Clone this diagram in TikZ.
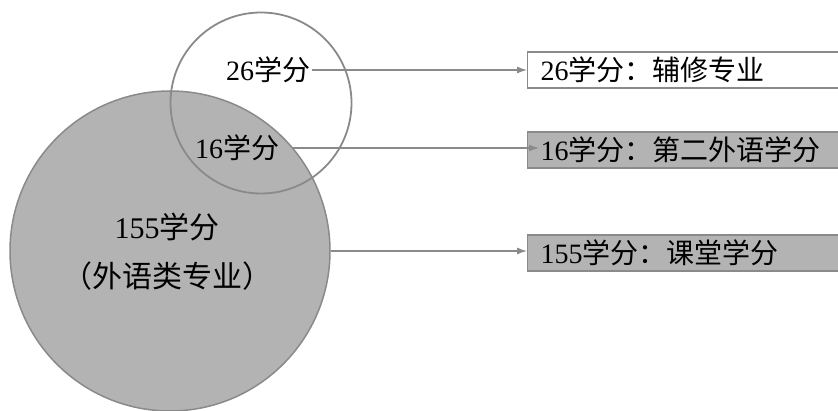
\documentclass[tikz,border=0pt]{standalone}
\usepackage{fontspec}
\setmainfont{Liberation Serif}
\newfontfamily\cjk{Noto Sans CJK SC}
\usetikzlibrary{arrows.meta}
\definecolor{setfill}{RGB}{179,179,179}
\definecolor{setedge}{RGB}{138,138,138}

\begin{document}
\begin{tikzpicture}[x=1pt,y=-1pt,
bigset/.style={circle,draw=setedge,fill=setfill,line width=1.5pt,minimum size=320pt,inner sep=0pt},
subset/.style={circle,draw=setedge,line width=1.8pt,minimum size=181pt,inner sep=0pt},
credit/.style={font=\fontsize{28}{30}\selectfont,inner sep=2pt},
creditbox/.style={draw=setedge,line width=1.2pt,anchor=west,minimum height=36pt,text width=285pt,inner xsep=13pt,inner ysep=0pt,align=left,font=\fontsize{28}{30}\selectfont},
link/.style={setedge,line width=1.2pt,-{Latex[length=10pt,width=7pt]}}]

\useasboundingbox (0,0) rectangle (838,411);

\draw (170,251) node[bigset] (major) {};
\draw (261,103) node[subset] (minor) {};

\draw (268,70) node[credit] (c26) {26{\cjk 学分}};
\draw (237,148) node[credit] (c16) {16{\cjk 学分}};
\draw (167,252) node[credit,align=center,font=\fontsize{30}{49}\selectfont] (c155) {155{\cjk 学分}\\{\cjk （外语类专业）}};

\draw (527,70) node[creditbox] (b26) {26{\cjk 学分：辅修专业}};
\draw (527,150) node[creditbox,fill=setfill] (b16) {16{\cjk 学分：第二外语学分}};
\draw (527,253) node[creditbox,fill=setfill] (b155) {155{\cjk 学分：课堂学分}};

\draw[link] (c26.east) -- (c26.east -| b26.west);
\draw[link] ([xshift=12pt]c16.east) -- ([xshift=12pt]c16.east -| b16.west);
\draw[link] (major.east) -- (major.east -| b155.west);

\end{tikzpicture}
\end{document}
